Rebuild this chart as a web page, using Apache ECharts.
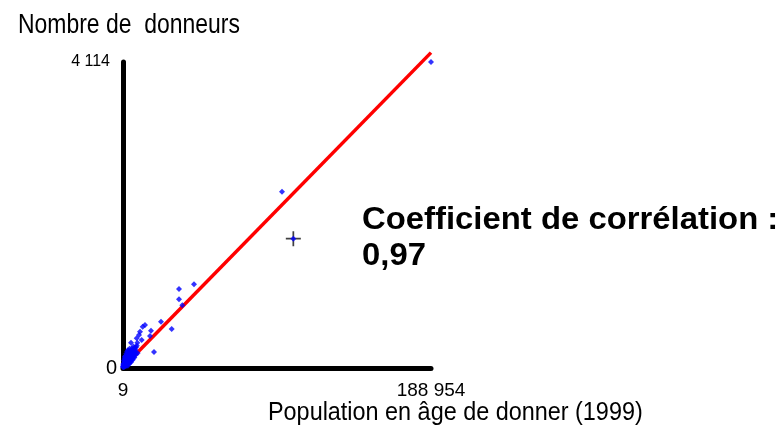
<!DOCTYPE html>
<html>
<head>
<meta charset="utf-8">
<script src="https://cdn.jsdelivr.net/npm/echarts@6/dist/echarts.min.js"></script>
<style>html,body{margin:0;padding:0;background:#fff}#c{width:782px;height:430px}</style>
</head>
<body>
<div id="c"></div>
<script>
// Data
var xMin = 9, xMax = 188954;
var yMin = 0, yMax = 4114;
var xTickValues = [9, 188954];
var xTickLabels = ['9', '188 954'];
var yTickValues = [0, 4114];
var yTickLabels = ['0', '4 114'];
var xTitle = 'Population en âge de donner (1999)';
var yTitle = 'Nombre de  donneurs';
var corrLine1 = 'Coefficient de corrélation :';
var corrLine2 = '0,97';

// scatter points [population, donneurs]
var outerPoints = [
  [188954, 4114], [97560, 2370], [104500, 1738], [43570, 1125], [34370, 1062],
  [34370, 923], [36390, 843], [23320, 622], [29890, 524], [17190, 501],
  [13510, 578], [12100, 555], [10440, 488], [9820, 444], [16570, 430],
  [8410, 399], [11480, 376], [8780, 340], [4920, 340], [7370, 278], [19030, 215]
];
var clusterPoints = [
  [9, 12], [150, 20], [300, 15], [450, 25], [600, 30], [800, 18], [1000, 40], [1200, 35],
  [1400, 55], [1600, 45], [1800, 70], [2000, 60], [2200, 80], [2400, 65], [2600, 95],
  [2800, 75], [3000, 110], [3200, 90], [3400, 120], [3600, 100], [3800, 140], [4000, 115],
  [4200, 150], [4400, 130], [4600, 170], [4800, 145], [5000, 190], [5200, 160], [5400, 200],
  [5600, 180], [5800, 220], [6000, 170], [6200, 240], [6500, 200], [6800, 260], [7100, 230],
  [7500, 250], [8000, 280], [8500, 300], [2100, 130], [2900, 160], [3300, 190], [4100, 210],
  [4900, 240], [5500, 260], [6300, 290], [1300, 90], [700, 60], [500, 45], [250, 35],
  [1100, 22], [1900, 28], [2700, 48], [3500, 62], [4300, 80], [5100, 105], [5900, 130],
  [6600, 150], [7300, 185], [7900, 210], [1500, 110], [2300, 150], [3700, 175], [4500, 200],
  [500, 100], [1000, 130], [1500, 160], [2000, 190], [2500, 220], [800, 80], [1200, 150],
  [3000, 240], [400, 60], [200, 50], [1800, 120], [2600, 175], [3500, 230], [4000, 260],
  [3000, 30], [4000, 60], [5000, 80], [6000, 110], [7000, 140], [8000, 180], [9000, 200]
];
var crossPoint = [[104500, 1738]];
// regression line endpoints
var regX = [9, 188954];
var regY = [10, 4240];

var regData = regX.map(function (x, i) { return [x, regY[i]]; });
var sans = '"Liberation Sans", Arial, sans-serif';

var chart = echarts.init(document.getElementById('c'), null, {renderer: 'canvas'});
chart.setOption({
  animation: false,
  backgroundColor: '#ffffff',
  grid: {left: 123, right: 351, top: 62, bottom: 62, containLabel: false},
  xAxis: {
    type: 'value', min: xMin, max: xMax,
    axisLine: {show: true, onZero: false, lineStyle: {color: '#000', width: 5, cap: 'round'}},
    axisTick: {show: false},
    splitLine: {show: false},
    axisLabel: {
      customValues: xTickValues,
      showMinLabel: true, showMaxLabel: true,
      margin: 13, color: '#000', fontFamily: sans, fontSize: 19,
      formatter: function (v) { var i = xTickValues.indexOf(v); return i >= 0 ? xTickLabels[i] : ''; }
    }
  },
  yAxis: {
    type: 'value', min: yMin, max: yMax,
    axisLine: {show: true, onZero: false, lineStyle: {color: '#000', width: 5, cap: 'round'}},
    axisTick: {show: false},
    splitLine: {show: false},
    axisLabel: {
      customValues: yTickValues,
      showMinLabel: true, showMaxLabel: true,
      margin: 6, color: '#000', fontFamily: sans,
      formatter: function (v) {
        var i = yTickValues.indexOf(v);
        if (i < 0) return '';
        return (i === 0 ? '{big|' : '{small|') + yTickLabels[i] + '}';
      },
      rich: {
        big: {fontSize: 20, fontFamily: sans, color: '#000'},
        small: {fontSize: 16, fontFamily: sans, color: '#000', padding: [0, 7, 0, 0]}
      }
    }
  },
  series: [
    {
      type: 'line', data: regData, showSymbol: false, symbol: 'none', clip: false,
      lineStyle: {color: '#ff0000', width: 3.5}, z: 2, silent: true
    },
    {
      type: 'scatter', data: crossPoint, symbol: 'path://M-0.8,-7L0.8,-7L0.8,-0.8L7,-0.8L7,0.8L0.8,0.8L0.8,7L-0.8,7L-0.8,0.8L-7,0.8L-7,-0.8L-0.8,-0.8Z',
      symbolSize: 15, itemStyle: {color: '#111'}, z: 3, silent: true
    },
    {
      type: 'scatter', data: clusterPoints.concat(outerPoints), symbol: 'diamond', symbolSize: 6,
      itemStyle: {color: '#0000ff'}, z: 4, silent: true
    }
  ],
  graphic: [
    {type: 'text', x: 18, y: 12, scaleX: 0.85, style: {x: 0, y: 0, text: yTitle, font: '27px ' + sans, fill: '#000', verticalAlign: 'top'}},
    {type: 'text', x: 268, y: 400, scaleX: 0.9, style: {x: 0, y: 0, text: xTitle, font: '26px ' + sans, fill: '#000', verticalAlign: 'top'}},
    {type: 'text', x: 362, y: 205, scaleX: 1.06, style: {x: 0, y: 0, text: corrLine1, font: 'bold 31px ' + sans, fill: '#000', verticalAlign: 'top'}},
    {type: 'text', x: 362, y: 241, scaleX: 1.06, style: {x: 0, y: 0, text: corrLine2, font: 'bold 31px ' + sans, fill: '#000', verticalAlign: 'top'}}
  ]
});
</script>
</body>
</html>
